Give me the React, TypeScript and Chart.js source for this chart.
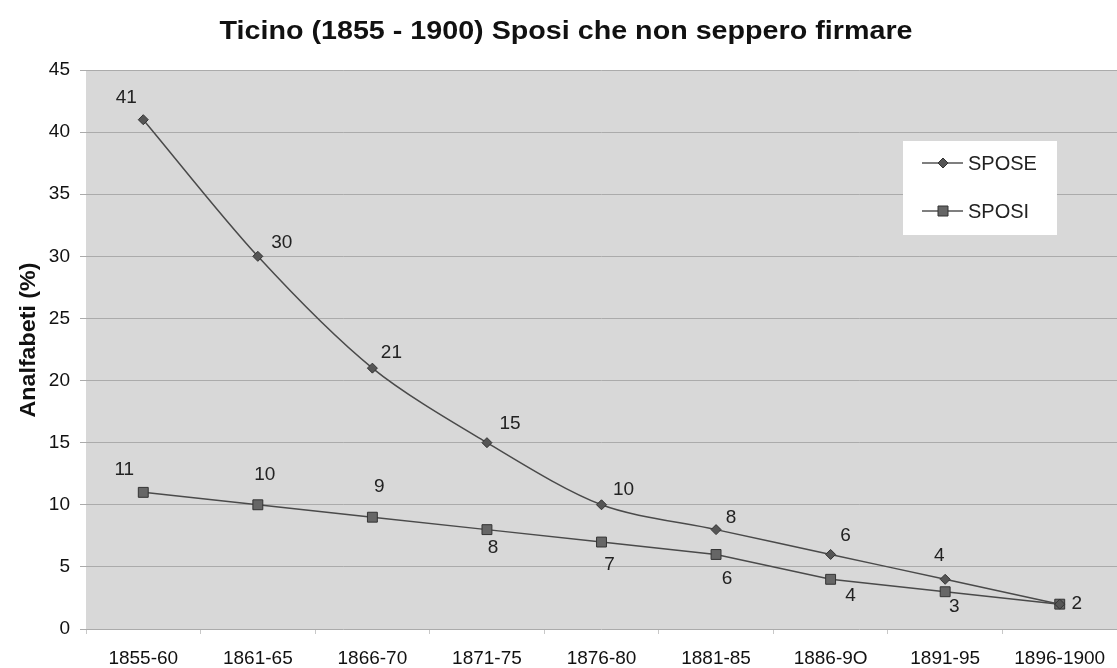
import React, { useEffect, useRef } from "react";
import { Chart, registerables } from "chart.js";

Chart.register(...registerables);

const categories = ["1855-60", "1861-65", "1866-70", "1871-75", "1876-80", "1881-85", "1886-9O", "1891-95", "1896-1900"];
const spose = [41, 30, 21, 15, 10, 8, 6, 4, 2];
const sposi = [11, 10, 9, 8, 7, 6, 4, 3, 2];
const yTicks = [0, 5, 10, 15, 20, 25, 30, 35, 40, 45];
const titleText = "Ticino (1855 - 1900) Sposi che non seppero firmare";
const yTitle = "Analfabeti (%)";

// label offsets (styling) relative to each point: [dx, dy]
const sposeLabelOffsets = [[-17, -22], [24, -14], [19, -15], [23, -19], [22, -15], [15, -12], [15, -19], [-6, -24], null];
const sposiLabelOffsets = [[-19, -23], [7, -30], [7, -30], [6, 18], [8, 23], [11, 24], [20, 16], [9, 15], [17, 0]];

const FONT = "'Liberation Sans', Arial, sans-serif";

export default function App() {
  const ref = useRef<HTMLCanvasElement | null>(null);
  useEffect(() => {
    document.body.style.margin = "0";
    const canvas = ref.current!;
    const decor = {
      id: "decor",
      beforeDraw(chart: any) {
        const { ctx, chartArea } = chart;
        ctx.save();
        ctx.fillStyle = "#ffffff";
        ctx.fillRect(0, 0, chart.width, chart.height);
        ctx.fillStyle = "#d8d8d8";
        ctx.fillRect(chartArea.left, chartArea.top, chartArea.right - chartArea.left, chartArea.bottom - chartArea.top);
        ctx.restore();
      },
      afterDraw(chart: any) {
        const { ctx } = chart;
        ctx.save();
        // title
        ctx.fillStyle = "#111";
        ctx.font = `bold 25px ${FONT}`;
        ctx.textAlign = "center";
        ctx.textBaseline = "middle";
        const tw = ctx.measureText(titleText).width;
        ctx.save();
        ctx.translate(566, 32);
        ctx.scale(693 / tw, 1);
        ctx.fillText(titleText, 0, 0);
        ctx.restore();
        // y title
        ctx.save();
        ctx.translate(29, 340);
        ctx.rotate(-Math.PI / 2);
        ctx.font = `bold 22px ${FONT}`;
        const yw = ctx.measureText(yTitle).width;
        ctx.scale(155 / yw, 1);
        ctx.fillText(yTitle, 0, 0);
        ctx.restore();
        // data labels
        ctx.font = `19px ${FONT}`;
        ctx.fillStyle = "#222";
        const drawLabels = (dsIndex: number, values: number[], offs: any[]) => {
          const meta = chart.getDatasetMeta(dsIndex);
          meta.data.forEach((pt: any, i: number) => {
            const o = offs[i];
            if (!o) return;
            ctx.fillText(String(values[i]), pt.x + o[0], pt.y + o[1]);
          });
        };
        drawLabels(0, spose, sposeLabelOffsets);
        drawLabels(1, sposi, sposiLabelOffsets);
        // legend
        const lx = 903, ly = 141, lw = 154, lh = 94;
        ctx.fillStyle = "#ffffff";
        ctx.fillRect(lx, ly, lw, lh);
        const items = [
          { label: chart.data.datasets[0].label, style: "rectRot", y: 163 },
          { label: chart.data.datasets[1].label, style: "rect", y: 211 },
        ];
        items.forEach((it) => {
          ctx.strokeStyle = "#555";
          ctx.lineWidth = 1.5;
          ctx.beginPath();
          ctx.moveTo(922, it.y);
          ctx.lineTo(963, it.y);
          ctx.stroke();
          ctx.strokeStyle = "#333";
          ctx.lineWidth = 1;
          ctx.beginPath();
          if (it.style === "rect") {
            ctx.fillStyle = "#666";
            ctx.rect(943 - 5, it.y - 5, 10, 10);
          } else {
            ctx.fillStyle = "#555";
            ctx.moveTo(943, it.y - 5);
            ctx.lineTo(948, it.y);
            ctx.lineTo(943, it.y + 5);
            ctx.lineTo(938, it.y);
            ctx.closePath();
          }
          ctx.fill();
          ctx.stroke();
          ctx.fillStyle = "#222";
          ctx.font = `20px ${FONT}`;
          ctx.textAlign = "left";
          ctx.fillText(it.label, 968, it.y + 1);
        });
        ctx.restore();
      },
    };
    const chart = new Chart(canvas, {
      type: "line",
      data: {
        labels: categories,
        datasets: [
          {
            label: "SPOSE",
            data: spose,
            borderColor: "#4a4a4a",
            borderWidth: 1.5,
            tension: 0.3,
            pointStyle: "rectRot",
            pointRadius: 5,
            pointBackgroundColor: "#555",
            pointBorderColor: "#333",
            pointBorderWidth: 1,
          },
          {
            label: "SPOSI",
            data: sposi,
            borderColor: "#4a4a4a",
            borderWidth: 1.5,
            tension: 0,
            pointStyle: "rect",
            pointRadius: 7,
            pointBackgroundColor: "#666",
            pointBorderColor: "#333",
            pointBorderWidth: 1,
          },
        ],
      },
      options: {
        animation: false,
        responsive: false,
        layout: { autoPadding: false, padding: { top: 70, left: 0, right: 0, bottom: 0 } },
        plugins: { legend: { display: false }, title: { display: false }, tooltip: { enabled: false } },
        scales: {
          x: {
            offset: true,
            grid: { offset: true, drawOnChartArea: false, drawTicks: true, tickLength: 5, color: "#c8c8c8" },
            border: { display: false },
            ticks: { color: "#111", font: { size: 19, family: FONT }, padding: 13, maxRotation: 0, autoSkip: false },
            afterFit: (s: any) => { s.height = 39; s.paddingLeft = 0; s.paddingRight = 0; },
          },
          y: {
            min: 0,
            max: 45,
            afterBuildTicks: (s: any) => { s.ticks = yTicks.map((v) => ({ value: v })); },
            grid: { color: "#ababab", lineWidth: 1, tickLength: 6, drawTicks: true },
            border: { display: false },
            ticks: { color: "#111", font: { size: 19, family: FONT }, padding: 10 },
            afterFit: (s: any) => { s.width = 86; s.paddingTop = 0; s.paddingBottom = 0; },
          },
        },
      },
      plugins: [decor],
    });
    return () => chart.destroy();
  }, []);
  return (
    <div style={{ width: 1117, height: 668 }}>
      <canvas ref={ref} width={1117} height={668} style={{ display: "block" }} />
    </div>
  );
}
